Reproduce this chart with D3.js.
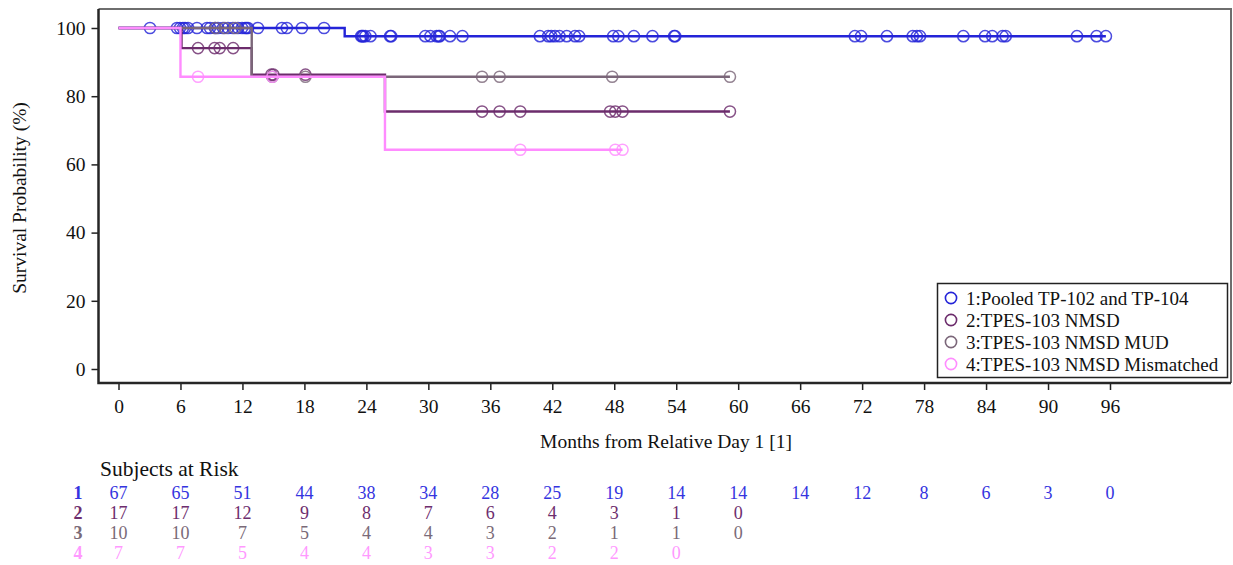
<!DOCTYPE html>
<html>
<head>
<meta charset="utf-8">
<script src="https://cdn.jsdelivr.net/npm/d3@7/dist/d3.min.js"></script>
<style>
  html, body { margin: 0; padding: 0; background: #fff; }
  svg { display: block; font-family: "Liberation Serif", "DejaVu Serif", serif; }
</style>
</head>
<body>
<svg id="chart" width="1233" height="565"></svg>
<script>
// Kaplan-Meier survival by group
const groupNames = ["1:Pooled TP-102 and TP-104", "2:TPES-103 NMSD", "3:TPES-103 NMSD MUD", "4:TPES-103 NMSD Mismatched"];
const groupColors = ["#2424d8", "#6c2c6c", "#7b6679", "#ff8cff"];
const riskColors = ["#3434e0", "#6e2e6e", "#7a6a78", "#ff99ff"];

// step points: [month, survival %]
const steps1 = [[0, 100], [21.9, 97.6]];
const steps2 = [[0, 100], [6.1, 94.1], [12.9, 86.3], [25.8, 75.5]];
const steps3 = [[0, 100], [12.9, 85.7]];
const steps4 = [[0, 100], [6.0, 85.7], [25.8, 64.3]];

// last follow-up month per group
const lastTime = [95.6, 59.2, 59.2, 48.8];

// censored observations (months)
const censor1 = [3.05, 5.66, 5.95, 6.24, 6.44, 6.73, 7.6, 8.57, 8.86, 9.34, 9.63, 10.12, 10.6, 11.08, 11.57, 11.96,
  12.25, 12.4, 12.54, 13.5, 15.83, 16.3, 17.76, 19.9, 23.5, 23.6, 23.7, 23.9, 24.4, 26.3, 26.4,
  29.7, 30.2, 30.8, 31.0, 31.1, 32.1, 33.3, 40.8, 41.6, 41.9, 42.26, 42.7, 43.4, 44.2, 44.6,
  47.9, 48.4, 49.9, 51.7, 53.8, 53.9, 71.3, 71.9, 74.4, 76.9, 77.3, 77.6, 81.8, 83.9, 84.6,
  85.6, 85.9, 92.8, 94.7, 95.6];
const censor2 = [7.7, 9.3, 9.8, 11.1, 14.8, 15.0, 18.1, 35.2, 36.9, 38.9, 47.6, 48.1, 48.8, 59.2];
const censor3 = [9.4, 10.3, 11.3, 14.9, 18.1, 35.2, 36.9, 47.8, 59.2];
const censor4 = [7.7, 14.9, 38.9, 48.1, 48.8];

// subjects at risk table
const riskTimes = [0, 6, 12, 18, 24, 30, 36, 42, 48, 54, 60, 66, 72, 78, 84, 90, 96];
const risk1 = [67, 65, 51, 44, 38, 34, 28, 25, 19, 14, 14, 14, 12, 8, 6, 3, 0];
const risk2 = [17, 17, 12, 9, 8, 7, 6, 4, 3, 1, 0];
const risk3 = [10, 10, 7, 5, 4, 4, 3, 2, 1, 1, 0];
const risk4 = [7, 7, 5, 4, 4, 3, 3, 2, 2, 0];

const xTicks = d3.range(0, 97, 6);
const yTicks = [0, 20, 40, 60, 80, 100];

const groups = [
  { name: groupNames[0], steps: steps1, censor: censor1, risk: risk1 },
  { name: groupNames[1], steps: steps2, censor: censor2, risk: risk2 },
  { name: groupNames[2], steps: steps3, censor: censor3, risk: risk3 },
  { name: groupNames[3], steps: steps4, censor: censor4, risk: risk4 }
];

const svg = d3.select("#chart");

const frame = { left: 98.5, right: 1231, top: 9, bottom: 383 };
const x = d3.scaleLinear().domain([0, 96]).range([118.5, 1110]);
const y = d3.scaleLinear().domain([0, 100]).range([369, 28]);

// frame: light top/right, heavy left/bottom
svg.append("path")
  .attr("d", `M${frame.left},${frame.top}H${frame.right}V${frame.bottom}`)
  .attr("fill", "none").attr("stroke", "#6e6e6e").attr("stroke-width", 2);

// axes
const xAxis = svg.append("g").attr("transform", `translate(0,${frame.bottom})`)
  .call(d3.axisBottom(x).tickValues(xTicks).tickSize(7).tickSizeOuter(0).tickPadding(9));
xAxis.select(".domain").remove();
const yAxis = svg.append("g").attr("transform", `translate(${frame.left},0)`)
  .call(d3.axisLeft(y).tickValues(yTicks).tickSize(7).tickSizeOuter(0).tickPadding(6));
yAxis.select(".domain").remove();
[xAxis, yAxis].forEach(g => {
  g.selectAll("line").attr("stroke", "#222").attr("stroke-width", 1.5);
  g.selectAll("text").attr("fill", "#111").style("font-size", "19.5px")
    .style("font-family", "'Liberation Serif', serif");
});

svg.append("path")
  .attr("d", `M${frame.left},${frame.top}V${frame.bottom}H${frame.right}`)
  .attr("fill", "none").attr("stroke", "#262626").attr("stroke-width", 2.5);

// axis titles
svg.append("text").attr("x", 666).attr("y", 448).attr("text-anchor", "middle")
  .style("font-size", "19.5px").attr("fill", "#111").text("Months from Relative Day 1 [1]");
svg.append("text").attr("transform", "translate(26,198) rotate(-90)").attr("text-anchor", "middle")
  .style("font-size", "19.5px").attr("fill", "#111").text("Survival Probability (%)");

// survival lookup from step points
function survAt(steps, t) {
  let v = steps[0][1];
  for (const s of steps) { if (s[0] <= t) v = s[1]; }
  return v;
}

const curve = d3.line().curve(d3.curveStepAfter).x(d => x(d[0])).y(d => y(d[1]));

groups.forEach((g, i) => {
  const pts = g.steps.concat([[lastTime[i], g.steps[g.steps.length - 1][1]]]);
  svg.append("path").datum(pts)
    .attr("d", curve)
    .attr("fill", "none")
    .attr("stroke", groupColors[i])
    .attr("stroke-width", 2.4);
  svg.append("g").selectAll("circle").data(g.censor).join("circle")
    .attr("cx", d => x(d))
    .attr("cy", d => y(survAt(g.steps, d)))
    .attr("r", 5.6)
    .attr("fill", "none")
    .attr("stroke", groupColors[i])
    .attr("stroke-opacity", 0.82)
    .attr("stroke-width", 1.5);
});

// legend
const lg = svg.append("g");
lg.append("rect").attr("x", 937.5).attr("y", 283.5).attr("width", 290).attr("height", 94)
  .attr("fill", "#fff").attr("stroke", "#222").attr("stroke-width", 1.5);
groups.forEach((g, i) => {
  const cy = 298 + i * 22;
  lg.append("circle").attr("cx", 951).attr("cy", cy).attr("r", 5.6)
    .attr("fill", "none").attr("stroke", groupColors[i]).attr("stroke-width", 1.6);
  lg.append("text").attr("x", 966).attr("y", cy + 6.5)
    .style("font-size", "19px").attr("fill", "#111").text(g.name);
});

// subjects at risk
svg.append("text").attr("x", 100).attr("y", 476)
  .style("font-size", "21.5px").attr("fill", "#111").text("Subjects at Risk");
groups.forEach((g, i) => {
  const ty = 499 + i * 20;
  svg.append("text").attr("x", 78).attr("y", ty).attr("text-anchor", "middle")
    .style("font-size", "18px").style("font-weight", "bold")
    .attr("fill", riskColors[i]).text(String(i + 1));
  svg.append("g").selectAll("text").data(g.risk).join("text")
    .attr("x", (d, j) => x(riskTimes[j]))
    .attr("y", ty)
    .attr("text-anchor", "middle")
    .style("font-size", "18px")
    .attr("fill", riskColors[i])
    .text(d => d);
});
</script>
</body>
</html>
